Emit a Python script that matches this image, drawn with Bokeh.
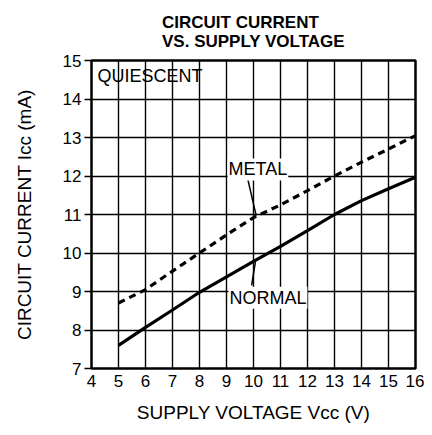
from bokeh.plotting import figure
from bokeh.models import FixedTicker, Label, Range1d, ColumnDataSource
from bokeh.embed import file_html
from bokeh.resources import INLINE

# ---- data ----
supply_v = [5, 6, 7, 8, 9, 10, 11, 12, 13, 14, 15, 16]
normal_ma = [7.6, 8.07, 8.52, 8.98, 9.38, 9.78, 10.17, 10.58, 11.0, 11.36, 11.67, 11.97]
metal_ma = [8.7, 9.05, 9.53, 10.0, 10.47, 10.92, 11.25, 11.62, 12.0, 12.36, 12.7, 13.05]

x_ticks = list(range(4, 17))
y_ticks = list(range(7, 16))

title_text = "CIRCUIT CURRENT\nVS. SUPPLY VOLTAGE"
x_label = "SUPPLY VOLTAGE Vcc (V)"
y_label = "CIRCUIT CURRENT Icc (mA)"

# annotation anchors (data units)
quiescent_pos = (4.22, 14.61)
metal_pos = (9.04, 12.17)
normal_pos = (9.07, 8.84)
metal_leader = ((9.77, 11.97), (10.1, 10.97))
normal_leader = ((9.93, 9.16), (10.07, 9.76))

FONT = "Liberation Sans"

p = figure(width=424, height=427,
           x_range=Range1d(4, 16), y_range=Range1d(7, 15),
           output_backend="svg", toolbar_location=None,
           min_border_left=91, min_border_right=9,
           min_border_top=60, min_border_bottom=59)

p.background_fill_color = "white"
p.border_fill_color = "white"
p.outline_line_color = "black"
p.outline_line_width = 2.5

p.title.text = title_text
p.title.align = "center"
p.title.text_font = FONT
p.title.text_font_size = "17px"
p.title.text_font_style = "bold"
p.title.text_color = "black"
p.title.text_line_height = 1.0
p.title.standoff = 20

# grids
p.xgrid.ticker = FixedTicker(ticks=x_ticks)
p.ygrid.ticker = FixedTicker(ticks=y_ticks)
for g in (p.xgrid, p.ygrid):
    g.grid_line_color = "black"
    g.grid_line_width = 1.4
    g.grid_line_alpha = 1.0

# axes
p.xaxis.ticker = FixedTicker(ticks=x_ticks)
p.yaxis.ticker = FixedTicker(ticks=y_ticks)
for ax in (p.xaxis, p.yaxis):
    ax.axis_line_color = None
    ax.minor_tick_line_color = None
    ax.major_tick_in = 0
    ax.major_label_text_font = FONT
    ax.major_label_text_font_size = "17px"
    ax.major_label_text_color = "black"
    ax.axis_label_text_font = FONT
    ax.axis_label_text_font_size = "19px"
    ax.axis_label_text_font_style = "normal"
    ax.axis_label_text_color = "black"
p.xaxis.major_tick_out = 0
p.xaxis.major_tick_line_color = None
p.xaxis.major_label_standoff = 6
p.xaxis.axis_label = x_label
p.xaxis.axis_label_standoff = 12
p.yaxis.major_tick_out = 7
p.yaxis.major_tick_line_color = "black"
p.yaxis.major_tick_line_width = 1.4
p.yaxis.major_label_standoff = 3
p.yaxis.axis_label = y_label
p.yaxis.axis_label_standoff = 25

src = ColumnDataSource(dict(v=supply_v, normal=normal_ma, metal=metal_ma))
p.line("v", "normal", source=src, line_color="black", line_width=3.2)
p.line("v", "metal", source=src, line_color="black", line_width=3.2,
       line_dash="7 5")

# leader lines
for (a, b) in (metal_leader, normal_leader):
    p.segment(x0=[a[0]], y0=[a[1]], x1=[b[0]], y1=[b[1]],
              line_color="black", line_width=1.5)

p.add_layout(Label(x=quiescent_pos[0], y=quiescent_pos[1], text="QUIESCENT",
                   text_font=FONT, text_font_size="18px", text_color="black",
                   text_align="left", text_baseline="middle"))
for pos, txt in ((metal_pos, "METAL"), (normal_pos, "NORMAL")):
    p.add_layout(Label(x=pos[0], y=pos[1], text=txt,
                       text_font=FONT, text_font_size="18px", text_color="black",
                       text_align="left", text_baseline="middle",
                       background_fill_color="white", padding=1))

open("out.html", "w").write(file_html(p, INLINE))
